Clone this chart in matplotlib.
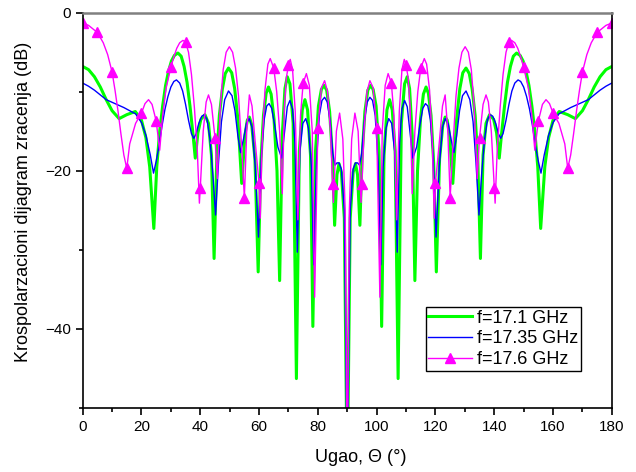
import matplotlib
matplotlib.use('Agg')
import matplotlib.pyplot as plt
from matplotlib.ticker import MultipleLocator

plt.rcParams['font.family'] = ['Liberation Sans', 'DejaVu Sans']

theta_17_1 = [0, 2, 4, 6, 8, 10, 12.4, 15, 17.9, 20, 21.5, 22.8, 24.2, 25.2, 26.2, 27.2,
              28.2, 29.2, 30.2, 31.2, 32.4, 33.5, 34.5, 35.5, 36.5, 37.5, 38.3, 39.2, 40.2,
              41.6, 42.8, 43.8, 44.7, 45.6, 46.5, 47.5, 48.5, 49.6, 50.7, 51.7, 52.8, 54.1,
              55.2, 56.0, 56.7, 57.5, 58.6, 59.7, 60.6, 61.5, 62.4, 63.2, 64.1, 65.1, 66.1,
              67.0, 67.9, 68.8, 69.6, 70.5, 71.6, 72.7, 73.7, 74.7, 75.6, 76.5, 77.5, 78.3,
              79.2, 80.2, 81.2, 82.1, 83.0, 84.0, 85.0, 85.7, 86.5, 87.2, 88.0, 89.0, 90]
db_17_1 = [-6.8, -7.2, -8.1, -9.4, -11.0, -12.4, -13.4, -12.9, -12.5, -13.6, -15.8, -19.5,
           -27.3, -19.5, -15.0, -11.8, -9.2, -7.4, -6.1, -5.4, -5.1, -5.5, -6.8, -8.8, -11.8,
           -15.3, -18.4, -15.2, -13.5, -12.9, -14.0, -18.0, -31.1, -18.5, -13.0, -9.7, -7.7,
           -7.0, -7.6, -9.6, -13.5, -21.6, -15.5, -13.6, -13.2, -14.2, -18.5, -32.8, -19.0,
           -13.0, -10.2, -9.4, -10.3, -13.5, -20.0, -33.9, -15.5, -9.6, -8.1, -9.0, -14.0,
           -46.3, -17.5, -12.3, -11.0, -12.3, -18.0, -39.7, -17.5, -11.8, -9.7, -9.2, -9.8,
           -12.5, -18.5, -26.9, -20.5, -19.1, -20.2, -26.0, -60]

theta_17_35 = [0, 2, 4, 6, 8, 11, 14, 16, 18, 20, 21.5, 23, 24.1, 25, 26, 27, 28, 29, 30,
               31, 31.9, 33, 34, 35, 36, 37, 37.8, 38.6, 39.5, 40.5, 41.4, 42.3, 43.3, 44.3,
               45.2, 46.2, 47.2, 48.3, 49.6, 50.8, 51.8, 52.8, 53.7, 54.7, 55.7, 56.7, 57.6,
               58.7, 59.8, 60.8, 61.7, 62.6, 63.4, 64.3, 65.3, 66.4, 67.7, 68.7, 69.6, 70.5,
               71.4, 72.2, 73.0, 73.9, 74.9, 75.9, 76.8, 77.8, 78.6, 79.5, 80.5, 81.4, 82.3,
               83.2, 84.2, 85.1, 85.8, 86.5, 87.2, 88.0, 89.0, 90]
db_17_35 = [-8.9, -9.3, -9.8, -10.4, -11.0, -11.5, -12.0, -12.4, -12.8, -13.9, -15.5, -18.0,
            -20.3, -18.8, -16.8, -14.3, -12.2, -10.6, -9.4, -8.7, -8.5, -8.9, -9.9, -11.6,
            -13.6, -15.3, -15.9, -15.3, -14.0, -13.1, -12.9, -13.5, -16.0, -20.5, -25.6,
            -19.0, -13.8, -11.0, -9.9, -10.5, -12.4, -15.6, -17.7, -16.0, -14.0, -13.4,
            -14.5, -19.5, -28.4, -18.0, -13.6, -11.8, -11.5, -12.1, -14.2, -17.0, -18.4,
            -15.0, -11.9, -11.1, -12.2, -16.5, -30.3, -17.5, -14.0, -13.4, -14.6, -19.5,
            -31.9, -19.0, -13.0, -11.1, -10.7, -11.3, -13.8, -17.8, -19.3, -19.0, -19.0,
            -19.8, -25.0, -60]

theta_17_6 = [0, 2, 5, 7, 8.5, 10, 11, 12, 13, 14, 15, 16, 18, 20, 21.2, 22.4, 23.6, 25,
              26.2, 27.2, 28.4, 30, 31, 32, 33, 34.1, 35, 36, 37, 38, 39, 39.7, 40, 41, 42,
              42.8, 43.8, 45, 45.8, 46.8, 47.8, 48.8, 49.9, 51, 52, 53, 54, 55, 55.8, 56.7,
              57.6, 58.6, 60, 60.4, 61, 62, 63, 63.8, 65, 66, 67, 67.9, 68.6, 69.3, 70, 70.6,
              71.4, 72.3, 73.2, 74.1, 75, 76.1, 77.1, 78.1, 78.9, 80, 81.2, 82.3, 83.3, 84.3,
              85, 85.3, 86.3, 87.4, 88.5, 89.3, 90]
db_17_6 = [-1.3, -1.6, -2.5, -3.8, -5.3, -7.5, -9.8, -12.4, -15.3, -18.0, -19.7, -16.6,
           -14.0, -12.7, -11.5, -11.0, -11.6, -13.7, -17.4, -13.0, -9.5, -6.9, -5.6, -4.5,
           -3.8, -3.5, -3.7, -5.0, -7.8, -12.0, -17.5, -24.1, -22.2, -15.0, -11.3, -10.4,
           -11.6, -15.8, -21.0, -12.0, -7.2, -5.0, -4.3, -5.0, -7.0, -10.5, -16.5, -23.4,
           -15.0, -10.4, -11.8, -16.0, -21.6, -26.0, -17.0, -9.8, -6.5, -5.8, -7.0, -10.0,
           -15.0, -22.9, -12.0, -8.2, -6.6, -5.9, -7.2, -12.5, -26.2, -13.0, -8.9, -7.7,
           -9.2, -15.0, -36.0, -14.6, -9.5, -8.6, -10.0, -15.0, -21.7, -24.0, -15.0, -12.7,
           -16.0, -25.0, -60]

labels = ['f=17.1 GHz', 'f=17.35 GHz', 'f=17.6 GHz']


def full_range(theta, db):
    # add the 90-180 deg half (mirror image in the chart)
    t = list(theta) + [180 - x for x in reversed(theta[:-1])]
    v = list(db) + list(reversed(db[:-1]))
    return t, v


fig = plt.figure(figsize=(6.36, 4.72), dpi=100)
ax = fig.add_axes([0.130, 0.136, 0.832, 0.837])

t1, v1 = full_range(theta_17_1, db_17_1)
t2, v2 = full_range(theta_17_35, db_17_35)
t3, v3 = full_range(theta_17_6, db_17_6)

# markers every 5 degrees on the 17.6 GHz curve
marks = [i for i, t in enumerate(t3) if abs(t / 5 - round(t / 5)) < 1e-6]

ax.plot(t1, v1, color='#00ff00', lw=2.2, label=labels[0])
ax.plot(t2, v2, color='#0000ff', lw=1.0, label=labels[1])
ax.plot(t3, v3, color='#ff00ff', lw=1.0, marker='^', ms=6.5, markevery=marks,
        label=labels[2])

ax.set_xlim(0, 180)
ax.set_ylim(-50, 0)
ax.xaxis.set_major_locator(MultipleLocator(20))
ax.xaxis.set_minor_locator(MultipleLocator(10))
ax.yaxis.set_major_locator(MultipleLocator(20))
ax.yaxis.set_minor_locator(MultipleLocator(10))
ax.tick_params(which='major', direction='out', length=5, width=1.2, labelsize=11)
ax.tick_params(which='minor', direction='out', length=3, width=1.2)

for side in ['left', 'right', 'bottom']:
    ax.spines[side].set_linewidth(1.2)
ax.spines['top'].set_color('#808080')
ax.spines['top'].set_linewidth(1.8)

ax.set_xlabel('Ugao, \u0398 (\u00b0)', fontsize=13)
ax.set_ylabel('Krospolarzacioni dijagram zracenja (dB)', fontsize=13)
ax.xaxis.set_label_coords(0.526, -0.105)
ax.yaxis.set_label_coords(-0.095, 0.52)

leg = ax.legend(loc='lower left', bbox_to_anchor=(0.648, 0.094), fontsize=13,
                frameon=True, fancybox=False, edgecolor='black', framealpha=1,
                handlelength=2.4, handletextpad=0.3, labelspacing=0.2,
                borderpad=0.15, borderaxespad=0)
leg.get_frame().set_linewidth(1.0)

fig.savefig('out.png', dpi=100)
